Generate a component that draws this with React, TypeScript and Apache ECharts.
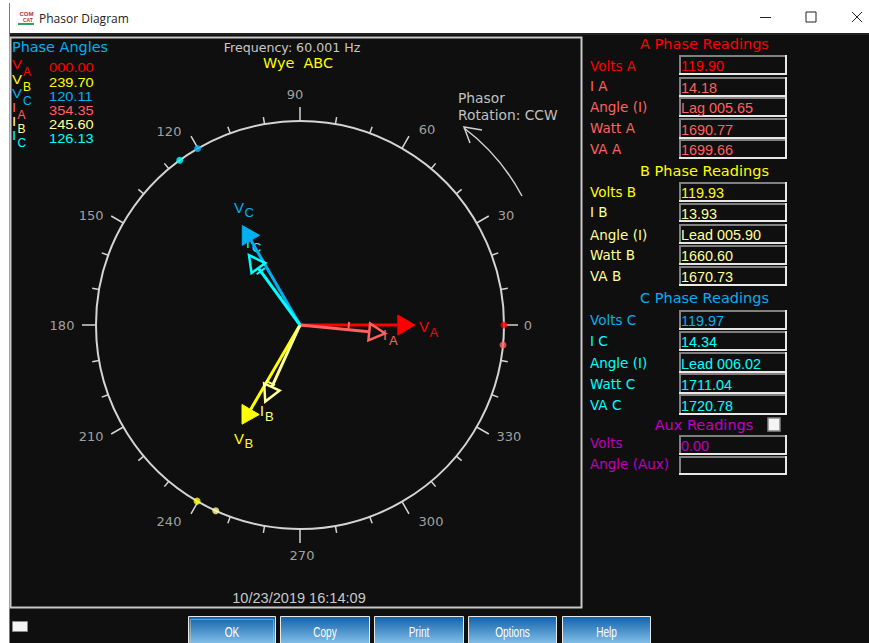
import React, { useEffect, useRef } from "react";
import * as echarts from "echarts";

const phaseNames = ["A", "B", "C"];
const voltColors = ["#ff0000", "#ffff00", "#00b0f0"];
const currentColors = ["#ff6060", "#ffff99", "#00ffff"];
const voltMagnitudes = [119.9, 119.93, 119.97];
const voltAngles = [0.0, 239.7, 120.11];
const currentMagnitudes = [14.18, 13.93, 14.34];
const currentAngles = [354.35, 245.6, 126.13];
const tickAngles = [0, 30, 60, 90, 120, 150, 180, 210, 240, 270, 300, 330];
const angleRows = ["000.00", "239.70", "120.11", "354.35", "245.60", "126.13"];
const rowLabelsA = ["Volts A", "I A", "Angle (I)", "Watt A", "VA A"];
const rowValuesA = ["119.90", "14.18", "Lag 005.65", "1690.77", "1699.66"];
const rowLabelsB = ["Volts B", "I B", "Angle (I)", "Watt B", "VA B"];
const rowValuesB = ["119.93", "13.93", "Lead 005.90", "1660.60", "1670.73"];
const rowLabelsC = ["Volts C", "I C", "Angle (I)", "Watt C", "VA C"];
const rowValuesC = ["119.97", "14.34", "Lead 006.02", "1711.04", "1720.78"];
const auxLabels = ["Volts", "Angle (Aux)"];
const auxValues = ["0.00", ""];
const buttonNames = ["OK", "Copy", "Print", "Options", "Help"];

const VOLT_MAX = 213;
const CURRENT_MAX = 33.8;
const TICK_LABEL_MAX = 360;
const BG = "#0f0f0f";
const UI_FONT = '"Liberation Sans", Arial, sans-serif';
const WIDE_FONT = '"DejaVu Sans", sans-serif';
// small per-label shifts that place the tick labels as the reference does
const tickLabelShift = [[-4, 0], [5, 6], [11, 5], [-5, 1], [-15, 7], [-8, 6], [-6, 0], [-8, -5], [-15, -4], [2, -2], [15, -4], [8, -5]];

function txt(x: number, y: number, text: string, fill: string, size = 13, extra: any = {}) {
  return {
    type: "text",
    x,
    y,
    scaleX: extra.scaleX || 1,
    silent: true,
    style: {
      text,
      fill,
      font: `${extra.weight || "normal"} ${size}px ${extra.family || UI_FONT}`,
      textAlign: extra.align || "left",
      textVerticalAlign: "middle",
    },
  };
}

function sunkenBox(x: number, y: number, w: number, h: number) {
  return [
    { type: "rect", shape: { x, y, width: w, height: h }, style: { fill: BG, stroke: "#808080", lineWidth: 2 } },
    { type: "polyline", shape: { points: [[x - 1, y + h], [x + w, y + h], [x + w, y - 1]] }, style: { fill: "none", stroke: "#e8e8e8", lineWidth: 2 } },
  ];
}

function panel(
  title: string,
  titleY: number,
  titleColor: string,
  labels: string[],
  values: string[],
  labelYs: number[],
  boxYs: number[][],
  firstColor: string,
  restColor: string,
) {
  const out: any[] = [txt(704.5, titleY, title, titleColor, 14.5, { align: "center", family: WIDE_FONT })];
  labels.forEach((label, i) => {
    out.push(txt(590, labelYs[i], label, i === 0 ? firstColor : restColor, 13.5, { family: WIDE_FONT }));
    out.push(...sunkenBox(680, boxYs[i][0], 106, boxYs[i][1] - boxYs[i][0]));
    out.push(txt(681, (boxYs[i][0] + boxYs[i][1]) / 2 + 1, values[i], i === 0 ? firstColor : restColor, 14.4));
  });
  return out;
}

function chrome() {
  const g: any[] = [];
  g.push({ type: "rect", shape: { x: 0, y: 0, width: 869, height: 643 }, style: { fill: "#ffffff" } });
  g.push({ type: "rect", shape: { x: 10, y: 33, width: 859, height: 610 }, style: { fill: BG } });
  g.push({ type: "line", shape: { x1: 9.5, y1: 3, x2: 9.5, y2: 643 }, style: { stroke: "#7a7a7a", lineWidth: 1 } });
  g.push({ type: "line", shape: { x1: 10, y1: 34, x2: 869, y2: 34 }, style: { stroke: "#222", lineWidth: 2 } });
  g.push(txt(19.5, 13.5, "COM", "#b03030", 6, { weight: "bold" }));
  g.push(txt(23, 20, "CAT", "#b03030", 5, { weight: "bold" }));
  g.push({ type: "rect", shape: { x: 18, y: 23, width: 16, height: 2 }, style: { fill: "#30a060" } });
  g.push(txt(39, 18, "Phasor Diagram", "#222222", 12, { family: '"Open Sans", sans-serif' }));
  g.push({ type: "line", shape: { x1: 760, y1: 17.5, x2: 771, y2: 17.5 }, style: { stroke: "#222", lineWidth: 1 } });
  g.push({ type: "rect", shape: { x: 806, y: 12, width: 10, height: 10 }, style: { fill: "none", stroke: "#222", lineWidth: 1 } });
  g.push({ type: "line", shape: { x1: 852, y1: 12, x2: 862, y2: 22 }, style: { stroke: "#222", lineWidth: 1 } });
  g.push({ type: "line", shape: { x1: 862, y1: 12, x2: 852, y2: 22 }, style: { stroke: "#222", lineWidth: 1 } });
  // plot frame
  g.push({ type: "rect", shape: { x: 10.5, y: 37.5, width: 571, height: 570 }, style: { fill: BG, stroke: "#c8c8c8", lineWidth: 2 } });
  // heading texts
  g.push(txt(12, 47, "Phase Angles", "#00b0f0", 14.4, { family: WIDE_FONT }));
  g.push(txt(292, 47, "Frequency: 60.001 Hz", "#c8c8c8", 12.6, { align: "center", family: WIDE_FONT }));
  g.push(txt(298, 63, "Wye  ABC", "#ffff00", 14.4, { align: "center", family: WIDE_FONT }));
  // angle table
  const rowY = [68, 82.5, 97, 111, 125, 139];
  const rowColors = [...voltColors, ...currentColors];
  angleRows.forEach((row, i) => {
    const phase = phaseNames[i % 3];
    g.push(txt(12, rowY[i] - 3, i < 3 ? "V" : "I", rowColors[i], 12.5, { scaleX: 1.2 }));
    g.push(txt(i < 3 ? 23 : 17.5, rowY[i] + 4, phase, rowColors[i], 12));
    g.push(txt(49, rowY[i], row, rowColors[i], 12.4, { scaleX: 1.18 }));
  });
  // phasor labels
  const lab: [number, number, string, string, number, number][] = [
    [419, 326, "V", voltColors[0], 429.5, 332],
    [234, 207, "V", voltColors[2], 244.5, 212],
    [234, 438, "V", voltColors[1], 244.5, 443],
  ];
  lab.forEach(([x, y, s, c, sx, sy], i) => {
    g.push(txt(x, y, s, c, 15));
    g.push(txt(sx, sy, ["A", "C", "B"][i], c, 13));
  });
  g.push(txt(383, 335, "I", currentColors[0], 14));
  g.push(txt(389, 340, "A", currentColors[0], 13));
  g.push(txt(246, 243, "I", currentColors[2], 14));
  g.push(txt(252, 247, "C", currentColors[2], 13));
  g.push(txt(260, 411, "I", currentColors[1], 14));
  g.push(txt(265, 416, "B", currentColors[1], 13));
  // rotation note
  g.push(txt(458, 98, "Phasor", "#c0c0c0", 13.8, { family: WIDE_FONT }));
  g.push(txt(458, 115, "Rotation: CCW", "#c0c0c0", 13.8, { family: WIDE_FONT }));
  g.push({ type: "bezierCurve", shape: { x1: 522, y1: 196, x2: 464, y2: 128, cpx1: 500, cpy1: 155 }, style: { fill: "none", stroke: "#d0d0d0", lineWidth: 1.5 } });
  g.push({ type: "polyline", shape: { points: [[482, 130], [464, 127], [470, 143]] }, style: { fill: "none", stroke: "#d0d0d0", lineWidth: 1.5 } });
  g.push(txt(299, 597, "10/23/2019 16:14:09", "#c8c8c8", 15.5, { align: "center", scaleX: 0.94 }));
  // readings
  g.push(...panel("A Phase Readings", 44, "#ff0000", rowLabelsA, rowValuesA, [66, 86, 107, 128, 149],
    [[56, 74], [78, 96], [98, 116], [119, 138], [140, 158]], "#ff0000", "#ff6060"));
  g.push(...panel("B Phase Readings", 171, "#ffff00", rowLabelsB, rowValuesB, [192, 212, 235, 255, 276],
    [[183, 201], [204, 221], [225, 243], [246, 264], [267, 285]], "#ffff00", "#ffff99"));
  g.push(...panel("C Phase Readings", 298, "#00b0f0", rowLabelsC, rowValuesC, [320, 341, 363, 384, 405],
    [[311, 329], [332, 350], [353, 372], [374, 393], [395, 414]], "#00b0f0", "#00ffff"));
  g.push(txt(704, 425, "Aux Readings", "#c000c0", 14.5, { align: "center", family: WIDE_FONT }));
  g.push({ type: "rect", shape: { x: 768, y: 418, width: 12, height: 13 }, style: { fill: "#f4f4f4", stroke: "#888", lineWidth: 1.5 } });
  [[436, 454], [457, 474]].forEach((b, i) => {
    g.push(txt(590, [443, 464][i], auxLabels[i], "#c000c0", 13.5, { family: WIDE_FONT }));
    g.push(...sunkenBox(680, b[0], 106, b[1] - b[0]));
    if (auxValues[i]) g.push(txt(681, (b[0] + b[1]) / 2 + 1, auxValues[i], "#c000c0", 14.4));
  });
  // bottom
  g.push({ type: "rect", shape: { x: 12.5, y: 621.5, width: 15, height: 10 }, style: { fill: "#f4f4f4", stroke: "#888", lineWidth: 1 } });
  const bx = [[188, 276], [280, 370], [374, 464], [468, 557], [562, 651]];
  buttonNames.forEach((name, i) => {
    const [x0, x1] = bx[i];
    g.push({
      type: "rect",
      shape: { x: x0 + 0.5, y: 616.5, width: x1 - x0 - 1, height: 30 },
      style: {
        fill: new echarts.graphic.LinearGradient(0, 0, 0, 1, [
          { offset: 0, color: "#0f60aa" },
          { offset: 1, color: "#8fcaf0" },
        ]),
        stroke: "#e8e8e8",
        lineWidth: 1,
      },
    });
    if (i === 0) {
      g.push({
        type: "rect",
        shape: { x: x0 + 2.5, y: 619.5, width: x1 - x0 - 5, height: 30 },
        style: { fill: "none", stroke: "#d8c8a0", lineWidth: 1, lineDash: [1, 1] },
      });
    }
    g.push(txt((x0 + x1) / 2, 632, name, "#ffffff", 14, { align: "center", scaleX: 0.72 }));
  });
  return g;
}

// bar: [distance back from the tip, side start, side end] of the small cross mark on a current phasor
const currentBars = [[37, 0, 8], [19, -8, 2], [20, -5, 5]];

function phasorSeries(value: number, angle: number, color: string, polarIndex: number, hollow: boolean, bar?: number[]) {
  return {
    type: "custom",
    coordinateSystem: "polar",
    polarIndex,
    encode: { radius: 0, angle: 1 },
    data: [[value, angle]],
    clip: false,
    z: hollow ? 6 : 5,
    renderItem: (_p: any, api: any) => {
      const tip = api.coord([api.value(0), api.value(1)]);
      const c = api.coord([0, api.value(1)]);
      const dx = tip[0] - c[0];
      const dy = tip[1] - c[1];
      const len = Math.hypot(dx, dy);
      const ux = dx / len;
      const uy = dy / len;
      const headLen = hollow ? 16 : 17;
      const halfW = hollow ? 8.5 : 10;
      const bx = tip[0] - ux * headLen;
      const by = tip[1] - uy * headLen;
      const pts = [
        [tip[0], tip[1]],
        [bx - uy * halfW, by + ux * halfW],
        [bx + uy * halfW, by - ux * halfW],
      ];
      const children: any[] = [
        {
          type: "line",
          shape: { x1: c[0], y1: c[1], x2: bx, y2: by },
          style: { stroke: color, lineWidth: 3, fill: "none" },
        },
        {
          type: "polygon",
          shape: { points: pts },
          style: hollow ? { fill: "none", stroke: color, lineWidth: 2.5 } : { fill: color, stroke: color, lineWidth: 1 },
        },
      ];
      if (bar) {
        const mx = tip[0] - ux * bar[0];
        const my = tip[1] - uy * bar[0];
        children.push({
          type: "line",
          shape: { x1: mx + uy * bar[1], y1: my - ux * bar[1], x2: mx + uy * bar[2], y2: my - ux * bar[2] },
          style: { stroke: color, lineWidth: 2, fill: "none" },
        });
      }
      return { type: "group", children };
    },
  };
}

export default function App() {
  const ref = useRef<HTMLDivElement>(null);
  useEffect(() => {
    document.body.style.margin = "0";
    const chart = echarts.init(ref.current!, undefined, { renderer: "svg" });
    const hiddenAngle = { min: 0, max: 360, startAngle: 0, clockwise: false, show: false };
    chart.setOption({
      animation: false,
      polar: [
        { center: [300, 325], radius: 204 },
        { center: [300, 325], radius: 204 },
        { center: [300, 325], radius: 232 },
      ],
      angleAxis: [
        {
          polarIndex: 0,
          type: "value",
          min: 0,
          max: 360,
          interval: 30,
          startAngle: 0,
          clockwise: false,
          axisLine: { show: true, lineStyle: { color: "#d4d4d4", width: 2 } },
          axisTick: { show: true, length: 14, lineStyle: { color: "#d4d4d4", width: 1.5 } },
          minorTick: { show: true, splitNumber: 3, length: 7, lineStyle: { color: "#d4d4d4", width: 1.5 } },
          splitLine: { show: false },
          minorSplitLine: { show: false },
          axisLabel: { show: false },
        },
        { polarIndex: 1, type: "value", ...hiddenAngle },
        { polarIndex: 2, type: "value", ...hiddenAngle },
      ],
      radiusAxis: [
        { polarIndex: 0, type: "value", min: 0, max: VOLT_MAX, show: false, splitLine: { show: false } },
        { polarIndex: 1, type: "value", min: 0, max: CURRENT_MAX, show: false, splitLine: { show: false } },
        { polarIndex: 2, type: "value", min: 0, max: TICK_LABEL_MAX, show: false, splitLine: { show: false } },
      ],
      graphic: { elements: chrome() },
      series: [
        ...voltAngles.map((a, i) => phasorSeries(voltMagnitudes[i], a, voltColors[i], 0, false)),
        ...currentAngles.map((a, i) => phasorSeries(currentMagnitudes[i], a, currentColors[i], 1, true, currentBars[i])),
        ...voltAngles.map((a, i) => ({
          type: "scatter",
          coordinateSystem: "polar",
          polarIndex: 0,
          symbolSize: 7,
          z: 7,
          itemStyle: { color: voltColors[i] },
          data: [[VOLT_MAX, a]],
        })),
        ...currentAngles.map((a, i) => ({
          type: "scatter",
          coordinateSystem: "polar",
          polarIndex: 1,
          symbolSize: 7,
          z: 7,
          itemStyle: { color: currentColors[i] },
          data: [[CURRENT_MAX, a]],
        })),
        {
          type: "scatter",
          coordinateSystem: "polar",
          polarIndex: 2,
          symbolSize: 1,
          silent: true,
          itemStyle: { color: "transparent" },
          data: tickAngles.map((a, i) => ({
            value: [TICK_LABEL_MAX, a],
            label: { offset: tickLabelShift[i] },
          })),
          label: {
            show: true,
            position: "inside",
            formatter: (p: any) => String(p.value[1]),
            color: "#c8c8c8",
            fontSize: 13,
            fontFamily: "DejaVu Sans",
          },
        },
      ],
    });
    return () => chart.dispose();
  }, []);
  return <div ref={ref} style={{ width: 869, height: 643 }} />;
}
